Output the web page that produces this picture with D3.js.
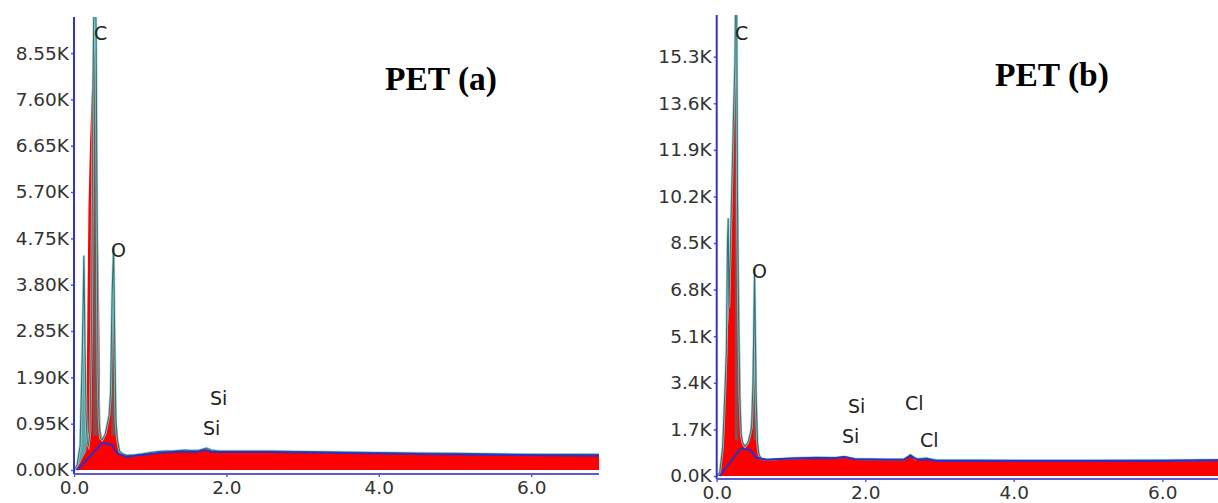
<!DOCTYPE html>
<html>
<head>
<meta charset="utf-8">
<script src="https://cdn.jsdelivr.net/npm/d3@7"></script>
<style>
  html, body { margin: 0; padding: 0; background: #fff; }
  svg { display: block; }
</style>
</head>
<body>
<svg id="chart" width="1218" height="503"></svg>
<script>
// ---------------- DATA ----------------
// Panel (a): energies in keV, counts in thousands
const energyA = [0.00,0.04,0.08,0.11,0.13,0.145,0.16,0.175,0.19,0.21,0.23,0.25,0.27,0.29,0.30,0.315,0.33,0.345,0.37,0.41,0.44,0.46,0.48,0.50,0.52,0.535,0.55,0.57,0.60,0.65,0.70,0.80,0.90,1.00,1.10,1.20,1.30,1.45,1.55,1.65,1.74,1.80,1.90,2.00,2.30,2.60,3.00,3.50,4.00,4.50,5.00,5.50,6.00,6.50,6.89];
const redA    = [0.00,0.05,0.15,0.25,0.30,0.35,0.40,3.20,5.40,6.70,7.60,8.30,8.70,8.00,6.70,4.80,3.40,0.90,0.62,0.72,0.95,1.10,1.80,3.40,4.10,3.20,1.50,0.60,0.36,0.30,0.28,0.29,0.31,0.34,0.36,0.37,0.37,0.39,0.38,0.39,0.43,0.39,0.37,0.37,0.37,0.37,0.36,0.35,0.34,0.33,0.32,0.31,0.30,0.30,0.30];
const tealA   = [0.00,0.10,0.50,2.50,4.40,2.50,1.00,0.55,0.50,0.80,3.00,8.00,11.0,9.00,6.00,2.00,1.00,0.66,0.62,0.74,0.97,1.12,1.60,3.60,4.60,2.60,1.00,0.62,0.38,0.32,0.30,0.31,0.33,0.36,0.38,0.39,0.39,0.41,0.40,0.41,0.45,0.41,0.39,0.39,0.39,0.39,0.38,0.37,0.36,0.35,0.34,0.33,0.32,0.32,0.32];
const bgEnergyA = [0.04,0.37,0.50,0.53,0.58,0.69,1.00,1.16,1.45,1.60,1.72,1.82,2.00,2.60,4.00,5.00,6.00,6.89];
const bgA       = [0.00,0.55,0.52,0.42,0.33,0.27,0.33,0.36,0.38,0.37,0.41,0.37,0.37,0.37,0.34,0.32,0.30,0.29];
const peakCoresA = [[0.25, 0.31], [0.49, 0.545]];

// Panel (b)
const energyB = [0.00,0.04,0.08,0.11,0.13,0.145,0.155,0.165,0.18,0.20,0.23,0.245,0.256,0.27,0.28,0.29,0.31,0.33,0.35,0.38,0.42,0.45,0.47,0.49,0.51,0.53,0.55,0.57,0.60,0.67,0.80,1.00,1.34,1.60,1.72,1.86,2.00,2.28,2.52,2.61,2.68,2.82,2.95,3.50,4.20,5.00,6.00,6.75];
const redB    = [0.00,0.10,1.00,3.00,4.50,5.20,5.60,6.10,7.80,10.1,13.5,14.8,15.4,14.9,12.5,10.1,5.20,2.00,1.20,1.05,1.20,1.50,2.50,5.00,6.50,5.00,1.50,0.75,0.62,0.58,0.60,0.63,0.66,0.65,0.69,0.61,0.60,0.59,0.59,0.76,0.60,0.63,0.56,0.56,0.55,0.55,0.56,0.57];
const tealB   = [0.00,0.12,1.05,3.05,4.60,8.50,9.40,6.15,7.85,10.2,13.6,15.0,18.0,17.0,10.0,7.00,3.00,1.50,1.22,1.08,1.22,1.52,1.80,3.50,7.60,3.00,1.20,0.77,0.64,0.60,0.62,0.65,0.68,0.67,0.71,0.63,0.62,0.61,0.61,0.78,0.62,0.65,0.58,0.58,0.57,0.57,0.58,0.59];
const bgEnergyB = [0.04,0.32,0.46,0.52,0.67,0.86,1.34,1.60,1.72,1.86,2.28,2.52,2.61,2.71,2.80,2.83,2.95,4.18,6.07,6.75];
const bgB       = [0.00,1.00,0.94,0.68,0.59,0.62,0.66,0.65,0.69,0.61,0.59,0.59,0.73,0.59,0.59,0.61,0.55,0.55,0.55,0.57];
const peakCoresB = [[0.245, 0.29], [0.495, 0.535]];

// Axes ticks
const xTicks = [0, 2, 4, 6];
const xTickLabels = ["0.0", "2.0", "4.0", "6.0"];
const yTicksA = [0, 0.95, 1.90, 2.85, 3.80, 4.75, 5.70, 6.65, 7.60, 8.55];
const yTickLabelsA = ["0.00K","0.95K","1.90K","2.85K","3.80K","4.75K","5.70K","6.65K","7.60K","8.55K"];
const yTicksB = [0, 1.7, 3.4, 5.1, 6.8, 8.5, 10.2, 11.9, 13.6, 15.3];
const yTickLabelsB = ["0.0K","1.7K","3.4K","5.1K","6.8K","8.5K","10.2K","11.9K","13.6K","15.3K"];

// Element labels: [text, keV, counts(K)]
const labelsA = [["C",0.262,8.82],["O",0.486,4.37],["Si",1.785,1.33],["Si",1.693,0.72]];
const labelsB = [["C",0.246,15.91],["O",0.475,7.23],["Si",1.768,2.30],["Si",1.688,1.20],["Cl",2.536,2.41],["Cl",2.738,1.06]];

const titles = ["PET (a)", "PET (b)"];

// ---------------- DRAW ----------------
const svg = d3.select("#chart");
const defs = svg.append("defs");

function panel(cfg) {
  const g = svg.append("g");
  const x = d3.scaleLinear().domain(cfg.xDomain).range(cfg.xRange);
  const y = d3.scaleLinear().domain(cfg.yDomain).range(cfg.yRange);
  const clipId = "clip" + cfg.id;
  defs.append("clipPath").attr("id", clipId).append("rect")
    .attr("x", cfg.xRange[0]).attr("y", cfg.yRange[1])
    .attr("width", cfg.xRange[1] - cfg.xRange[0])
    .attr("height", cfg.yRange[0] - cfg.yRange[1]);
  const coreClipId = "core" + cfg.id;
  defs.append("clipPath").attr("id", coreClipId).selectAll("rect")
    .data(cfg.cores).enter().append("rect")
    .attr("x", d => x(d[0])).attr("width", d => x(d[1]) - x(d[0]))
    .attr("y", cfg.yRange[1]).attr("height", cfg.yRange[0] - cfg.yRange[1]);

  const plot = g.append("g").attr("clip-path", `url(#${clipId})`);
  const idx = d3.range(cfg.energy.length);

  const areaRed = d3.area().x(i => x(cfg.energy[i])).y0(y(0)).y1(i => y(cfg.red[i]));
  const areaExcess = d3.area().x(i => x(cfg.energy[i]))
    .y0(i => y(cfg.red[i])).y1(i => y(Math.max(cfg.teal[i], cfg.red[i])));
  const areaCore = d3.area().x(i => x(cfg.energy[i]))
    .y0(y(cfg.tealFloor)).y1(i => y(Math.max(Math.min(cfg.teal[i], cfg.red[i]), cfg.tealFloor)));
  const lineTeal = d3.line().x(i => x(cfg.energy[i])).y(i => y(cfg.teal[i]));

  plot.append("path").attr("d", areaRed(idx)).attr("fill", "#ff0000");
  plot.append("path").attr("d", areaExcess(idx)).attr("fill", "#2a8585").attr("fill-opacity", 0.75);
  plot.append("g").attr("clip-path", `url(#${coreClipId})`)
    .append("path").attr("d", areaCore(idx)).attr("fill", "#2a8585").attr("fill-opacity", 0.6);
  plot.append("path").attr("d", lineTeal(idx)).attr("fill", "none")
    .attr("stroke", "#9adcdc").attr("stroke-width", 2.6).attr("stroke-opacity", 0.8);
  plot.append("path").attr("d", lineTeal(idx)).attr("fill", "none")
    .attr("stroke", "#3a6e70").attr("stroke-width", 1.1);

  const bidx = d3.range(cfg.bgE.length);
  const lineBg = d3.line().x(i => x(cfg.bgE[i])).y(i => y(cfg.bg[i]));
  plot.append("path").attr("d", lineBg(bidx)).attr("fill", "none")
    .attr("stroke", "#2f2fc4").attr("stroke-width", 2);

  // axes
  const yAxis = d3.axisLeft(y).tickValues(cfg.yTicks)
    .tickFormat((d, i) => cfg.yLabels[i]).tickSizeOuter(0).tickSize(3).tickPadding(2);
  const ya = g.append("g").attr("transform", `translate(${cfg.xRange[0]},0)`).call(yAxis);
  ya.select(".domain").remove();
  ya.selectAll(".tick line").attr("stroke", "#5b5bd0").attr("stroke-width", 1.5);
  ya.selectAll("text").attr("font-family", "DejaVu Sans, sans-serif")
    .attr("font-size", 18.5).attr("fill", "#333");

  const xAxis = d3.axisBottom(x).tickValues(xTicks)
    .tickFormat((d, i) => xTickLabels[i]).tickSizeOuter(0).tickSize(3).tickPadding(4);
  const xa = g.append("g").attr("transform", `translate(0,${cfg.yRange[0]})`).call(xAxis);
  xa.select(".domain").remove();
  xa.selectAll(".tick line").attr("stroke", "#5b5bd0").attr("stroke-width", 1.5);
  xa.selectAll("text").attr("font-family", "DejaVu Sans, sans-serif")
    .attr("font-size", 18.5).attr("fill", "#333");

  // axis lines
  g.append("line").attr("x1", cfg.xRange[0]).attr("x2", cfg.xRange[0])
    .attr("y1", cfg.yRange[1]).attr("y2", cfg.yRange[0])
    .attr("stroke", "#3434cc").attr("stroke-width", 2);
  g.append("line").attr("x1", cfg.xRange[0]).attr("x2", cfg.xRange[1])
    .attr("y1", cfg.yRange[0]).attr("y2", cfg.yRange[0])
    .attr("stroke", "#5a5ad8").attr("stroke-width", 2.2);

  // element labels
  g.selectAll("text.el").data(cfg.labels).enter().append("text")
    .attr("class", "el")
    .attr("x", d => x(d[1])).attr("y", d => y(d[2]))
    .attr("font-family", "DejaVu Sans, sans-serif").attr("font-size", 19)
    .attr("fill", "#222").text(d => d[0]);

  // title
  g.append("text").attr("x", cfg.titlePos[0]).attr("y", cfg.titlePos[1])
    .attr("font-family", "Liberation Serif, Times New Roman, serif")
    .attr("font-weight", "bold").attr("font-size", 33.5).attr("fill", "#000")
    .text(cfg.title);
}

panel({
  id: "A", energy: energyA, red: redA, teal: tealA, bgE: bgEnergyA, bg: bgA,
  tealFloor: 0.7, cores: peakCoresA,
  xDomain: [0, 6.89], xRange: [74, 599],
  yDomain: [-0.082, 9.29], yRange: [474, 17],
  yTicks: yTicksA, yLabels: yTickLabelsA, labels: labelsA,
  title: titles[0], titlePos: [385, 90]
});
panel({
  id: "B", energy: energyB, red: redB, teal: tealB, bgE: bgEnergyB, bg: bgB,
  tealFloor: 1.3, cores: peakCoresB,
  xDomain: [0, 6.75], xRange: [716.7, 1218],
  yDomain: [-0.11, 16.82], yRange: [479, 15],
  yTicks: yTicksB, yLabels: yTickLabelsB, labels: labelsB,
  title: titles[1], titlePos: [995, 86]
});
</script>
</body>
</html>
